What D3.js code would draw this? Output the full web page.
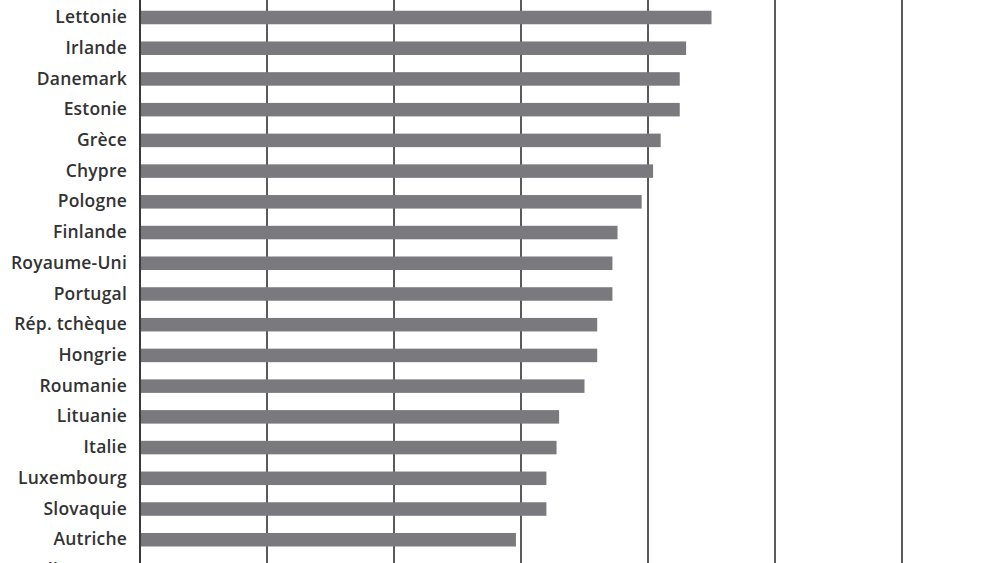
<!DOCTYPE html>
<html>
<head>
<meta charset="utf-8">
<script src="https://cdn.jsdelivr.net/npm/d3@7"></script>
<style>
  html, body { margin: 0; padding: 0; background: #fff; overflow: hidden; }
  svg { display: block; }
</style>
</head>
<body>
<svg id="chart" width="1000" height="563"></svg>
<script>
const categories = ["Lettonie", "Irlande", "Danemark", "Estonie", "Grèce", "Chypre", "Pologne", "Finlande", "Royaume-Uni", "Portugal", "Rép. tchèque", "Hongrie", "Roumanie", "Lituanie", "Italie", "Luxembourg", "Slovaquie", "Autriche", "Allemagne"];
const values = [45.0, 43.0, 42.5, 42.5, 41.0, 40.4, 39.5, 37.6, 37.2, 37.2, 36.0, 36.0, 35.0, 33.0, 32.8, 32.0, 32.0, 29.6, 28.5];
const gridTicks = [0, 10, 20, 30, 40, 50, 60];

const svg = d3.select("#chart");
const W = 1000, H = 563;

const x = d3.scaleLinear().domain([0, 60]).range([140, 902]);
const step = 30.72;
const r0 = 17.5 - step / 2;
const y = d3.scaleBand()
  .domain(categories)
  .range([r0, r0 + step * categories.length])
  .paddingInner(0.56)
  .paddingOuter(0.28);

// gridlines
svg.append("g")
  .selectAll("line")
  .data(gridTicks)
  .join("line")
  .attr("x1", d => x(d)).attr("x2", d => x(d))
  .attr("y1", 0).attr("y2", H)
  .attr("stroke", d => d === 0 ? "#3a3a3a" : "#5a5a5a")
  .attr("stroke-width", 2);

// bars
svg.append("g")
  .selectAll("rect")
  .data(categories)
  .join("rect")
  .attr("x", x(0) + 1)
  .attr("y", d => y(d))
  .attr("width", (d, i) => x(values[i]) - x(0) - 1)
  .attr("height", y.bandwidth())
  .attr("fill", "#7a797e");

// labels
const yAxis = d3.axisLeft(y).tickSize(0).tickPadding(13);
const ga = svg.append("g").attr("transform", `translate(${x(0)},0)`).call(yAxis);
ga.select(".domain").remove();
ga.selectAll("text")
  .attr("font-family", "'Open Sans', sans-serif")
  .attr("font-size", 17.5)
  .attr("font-weight", 600)
  .attr("letter-spacing", 0.2)
  .attr("fill", "#333333");
</script>
</body>
</html>
